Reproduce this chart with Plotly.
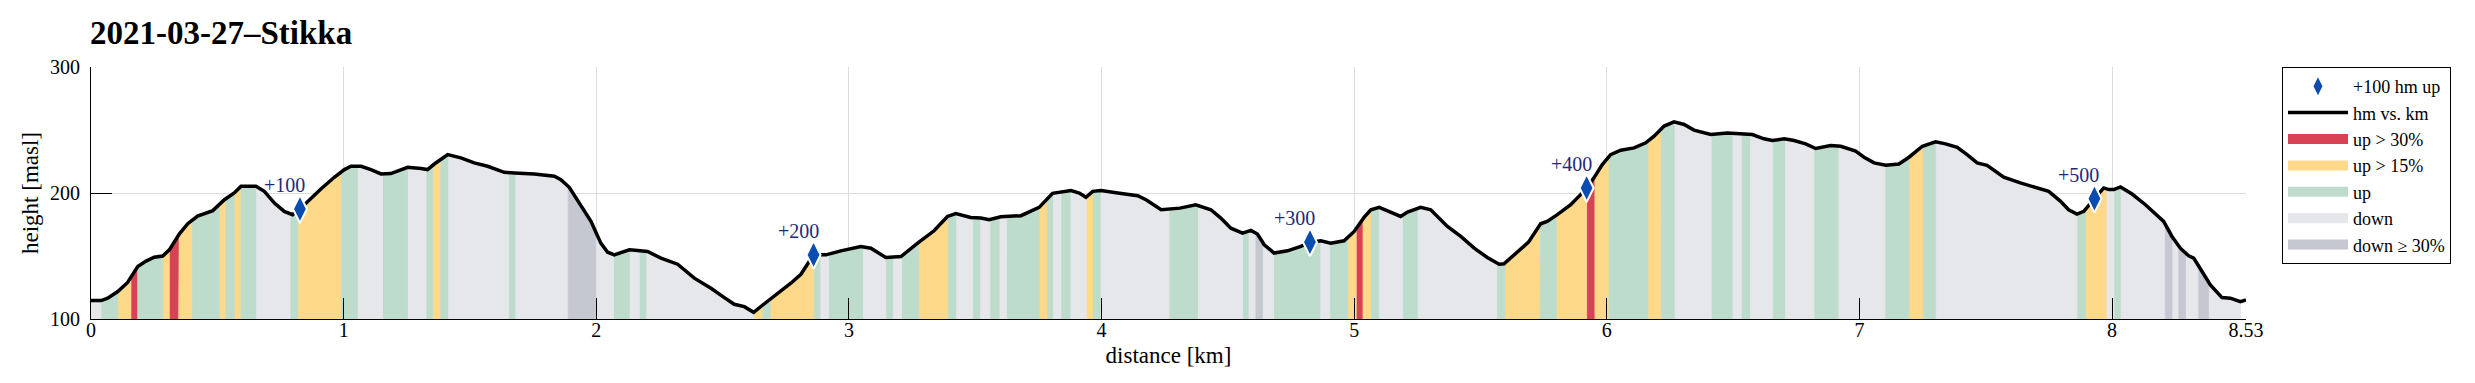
import numpy as np
import plotly.graph_objects as go

TITLE = "2021-03-27–Stikka"

# elevation profile (distance in km, height in m a.s.l.)
dist_km = [
    0.0, 0.04, 0.066, 0.106, 0.145, 0.185, 0.218, 0.25, 0.284, 0.31, 0.35, 0.383, 0.422, 0.482,
    0.528, 0.567, 0.594, 0.653, 0.686, 0.726, 0.765, 0.798, 0.827, 0.864, 0.91, 0.963, 1.003,
    1.029, 1.069, 1.108, 1.148, 1.187, 1.253, 1.306, 1.332, 1.359, 1.412, 1.464, 1.517, 1.57,
    1.636, 1.676, 1.755, 1.834, 1.86, 1.893, 1.939, 1.979, 2.018, 2.045, 2.071, 2.131, 2.164,
    2.203, 2.256, 2.322, 2.388, 2.454, 2.507, 2.546, 2.586, 2.623, 2.659, 2.718, 2.77, 2.81,
    2.837, 2.86, 2.909, 2.968, 3.047, 3.087, 3.146, 3.206, 3.272, 3.337, 3.39, 3.423, 3.482,
    3.522, 3.555, 3.601, 3.681, 3.753, 3.806, 3.839, 3.879, 3.912, 3.938, 3.965, 3.998, 4.064,
    4.143, 4.176, 4.236, 4.31, 4.373, 4.433, 4.472, 4.512, 4.558, 4.591, 4.617, 4.644, 4.683,
    4.736, 4.789, 4.825, 4.868, 4.907, 4.96, 5.0, 5.039, 5.066, 5.099, 5.132, 5.184, 5.211,
    5.263, 5.303, 5.369, 5.422, 5.475, 5.527, 5.574, 5.593, 5.646, 5.69, 5.738, 5.764, 5.804,
    5.857, 5.896, 5.92, 5.949, 5.982, 6.015, 6.055, 6.108, 6.154, 6.187, 6.227, 6.266, 6.306,
    6.345, 6.411, 6.477, 6.543, 6.576, 6.622, 6.655, 6.702, 6.741, 6.787, 6.827, 6.886, 6.926,
    6.985, 7.018, 7.058, 7.104, 7.156, 7.196, 7.249, 7.301, 7.341, 7.387, 7.426, 7.466, 7.505,
    7.571, 7.637, 7.69, 7.749, 7.795, 7.828, 7.861, 7.888, 7.93, 7.967, 7.987, 8.007, 8.033,
    8.079, 8.132, 8.178, 8.204, 8.237, 8.27, 8.303, 8.323, 8.356, 8.389, 8.435, 8.468, 8.508,
    8.53,
]
height_m = [
    114.6, 114.6, 116.5, 121.8, 129.0, 141.6, 146.0, 149.0, 150.0, 154.9, 167.6, 175.6, 181.7, 186.0,
    194.7, 200.0, 205.3, 205.3, 201.3, 192.0, 185.4, 182.8, 187.3, 194.7, 203.2, 212.5, 218.6,
    221.2, 221.2, 218.6, 215.1, 215.4, 220.4, 219.4, 218.6, 223.0, 230.5, 227.9, 223.9, 221.2,
    216.4, 215.9, 215.1, 213.3, 210.6, 204.5, 190.7, 177.5, 160.2, 153.0, 150.9, 154.9, 154.4,
    153.6, 148.3, 143.5, 132.4, 124.4, 117.0, 111.7, 109.8, 105.3, 111.1, 120.2, 128.4, 135.5,
    143.5, 150.9, 150.9, 154.1, 157.6, 156.2, 148.8, 149.6, 160.2, 170.0, 181.4, 183.6, 180.6,
    180.1, 178.8, 181.2, 182.0, 188.6, 199.7, 200.8, 201.9, 200.0, 196.6, 201.3, 201.9, 200.0,
    197.9, 194.7, 186.7, 188.0, 190.7, 186.7, 180.1, 172.1, 168.2, 170.3, 167.4, 158.9, 152.3,
    154.1, 157.6, 161.0, 162.1, 160.2, 162.1, 169.5, 180.6, 186.7, 188.6, 185.9, 181.4, 184.9,
    188.6, 186.7, 173.5, 165.5, 156.2, 148.8, 143.5, 143.8, 153.6, 161.0, 175.6, 177.5, 182.8,
    190.7, 198.7, 204.0, 212.0, 222.5, 230.5, 234.0, 235.8, 239.8, 245.1, 253.1, 256.5, 254.4,
    249.9, 246.4, 247.7, 246.9, 246.4, 243.0, 241.6, 243.0, 241.6, 239.0, 235.3, 237.7, 237.1,
    233.2, 228.4, 223.9, 222.0, 223.0, 228.4, 237.1, 240.6, 239.0, 236.3, 230.5, 223.9, 222.0,
    212.5, 208.0, 204.5, 201.3, 193.6, 186.7, 183.3, 185.4, 195.5, 204.0, 202.7, 202.7, 204.8,
    199.2, 190.7, 182.8, 177.5, 165.5, 156.2, 150.1, 148.3, 137.7, 127.1, 117.0, 116.5, 113.8,
    115.1,
]

# slope-class bands: start of each band (km), class of each band, end of the last band
band_start_km = [
    0.0, 0.0396, 0.1055, 0.158, 0.185, 0.284, 0.31, 0.347, 0.402, 0.508, 0.534, 0.567, 0.594,
    0.656, 0.788, 0.818, 0.992, 1.058, 1.154, 1.256, 1.326, 1.352, 1.385, 1.416, 1.653, 1.682,
    1.889, 1.998, 2.068, 2.134, 2.17, 2.2, 2.623, 2.659, 2.688, 2.862, 2.889, 2.919, 3.058,
    3.146, 3.176, 3.209, 3.276, 3.393, 3.427, 3.489, 3.522, 3.558, 3.598, 3.624, 3.753, 3.786,
    3.81, 3.839, 3.879, 3.939, 3.968, 3.998, 4.267, 4.384, 4.558, 4.584, 4.611, 4.637, 4.681,
    4.868, 4.903, 4.974, 5.008, 5.035, 5.068, 5.101, 5.191, 5.253, 5.564, 5.596, 5.736, 5.8,
    5.92, 5.953, 6.009, 6.163, 6.216, 6.27, 6.413, 6.5, 6.532, 6.569, 6.655, 6.708, 6.82,
    6.919, 7.101, 7.196, 7.253, 7.304, 7.861, 7.894, 7.98, 8.007, 8.036, 8.211, 8.237, 8.264,
    8.29, 8.343, 8.382,
]
band_last_end_km = 8.508
band_class = [
    "down", "up", "up15", "up30", "up", "up15", "up30", "up15", "up", "up15", "up", "up15", "up",
    "down", "up", "up15", "up", "down", "up", "down", "up", "up15", "up", "down", "up", "down",
    "down30", "down", "up", "down", "up", "down", "up15", "up", "up15", "up", "down", "up", "down",
    "up", "down", "up", "up15", "up", "down", "up", "down", "up", "down", "up", "up15", "up",
    "down", "up", "down", "up15", "up", "down", "up", "down", "up", "down", "down30", "down", "up",
    "down", "up", "up15", "up30", "up15", "up", "down", "up", "down", "up", "up15", "up", "up15",
    "up30", "up15", "up", "up15", "up", "down", "up", "down", "up", "down", "up", "down", "up",
    "down", "up", "up15", "up", "down", "up", "up15", "down", "up", "down", "down30", "down", "down30",
    "down", "down30", "down",
]

class_keys = ["up30", "up15", "up", "down", "down30"]
class_names = ["up > 30%", "up > 15%", "up", "down", "down ≥ 30%"]
class_colors = ["#D94155", "#FED98A", "#BEDCCB", "#E6E7EB", "#C5C8D1"]

milestone_km = [0.827, 2.86, 4.825, 5.92, 7.93]
milestone_text = ["+100", "+200", "+300", "+400", "+500"]

x_tickvals = [0, 1, 2, 3, 4, 5, 6, 7, 8, 8.53]
x_ticktext = ["0", "1", "2", "3", "4", "5", "6", "7", "8", "8.53"]
y_tickvals = [100, 200, 300]
y_ticktext = ["100", "200", "300"]

FONT = "Liberation Serif"
Y_MIN, Y_MAX = 100, 300

d = np.array(dist_km)
h = np.array(height_m)
band_end_km = band_start_km[1:] + [band_last_end_km]

fig = go.Figure()

# filled slope-class bands
for rank, (key, name, col) in enumerate(zip(class_keys, class_names, class_colors)):
    xs, ys = [], []
    for a, b, c in zip(band_start_km, band_end_km, band_class):
        if c != key:
            continue
        inner = d[(d > a) & (d < b)]
        px = np.concatenate([[a], inner, [b]])
        py = np.interp(px, d, h)
        xs += [a] + px.tolist() + [b, a, None]
        ys += [Y_MIN] + py.tolist() + [Y_MIN, Y_MIN, None]
    fig.add_trace(go.Scatter(
        x=xs, y=ys, mode="lines", fill="toself", fillcolor=col,
        line=dict(color=col, width=0.8), showlegend=False, hoverinfo="skip",
    ))
    # legend entry (patch)
    fig.add_trace(go.Scatter(
        x=[None], y=[None], mode="lines", line=dict(color=col, width=16),
        name=name, legendrank=3 + rank,
    ))

# profile line
fig.add_trace(go.Scatter(
    x=dist_km, y=height_m, mode="lines", line=dict(color="black", width=3.5),
    name="hm vs. km", legendrank=2,
))

# +100 hm milestones
ms_h = np.interp(milestone_km, d, h)
fig.add_trace(go.Scatter(
    x=milestone_km, y=ms_h, mode="markers",
    marker=dict(symbol="diamond-tall", size=20, color="#0A4CB0",
                line=dict(color="white", width=2)),
    name="+100 hm up", legendrank=1,
))
for xk, yk, t in zip(milestone_km, ms_h, milestone_text):
    fig.add_annotation(x=xk, y=yk, text=t, showarrow=False, xanchor="right",
                       yanchor="bottom", xshift=7, yshift=11,
                       font=dict(family=FONT, size=20, color="#1C2A78"))

axis_common = dict(
    showline=True, linecolor="black", linewidth=1, ticks="inside", ticklen=21,
    tickcolor="black", tickwidth=1, showgrid=True, gridcolor="#DCDCDC", gridwidth=1,
    zeroline=False, tickfont=dict(family=FONT, size=20, color="black"),
)
fig.update_xaxes(range=[0, 8.53], tickvals=x_tickvals, ticktext=x_ticktext,
                 ticklabelstandoff=-7,
                 title=dict(text="distance [km]", font=dict(family=FONT, size=23, color="black"),
                            standoff=6),
                 **axis_common)
fig.update_yaxes(range=[Y_MIN, Y_MAX], tickvals=y_tickvals, ticktext=y_ticktext,
                 ticklabelstandoff=6,
                 title=dict(text="height [masl]", font=dict(family=FONT, size=23, color="black"),
                            standoff=4),
                 **axis_common)

fig.update_layout(
    width=2475, height=383,
    margin=dict(l=83, r=237, t=59, b=72, autoexpand=False),
    paper_bgcolor="white", plot_bgcolor="white",
    title=dict(text="<b>" + TITLE + "</b>", x=82 / 2475, xanchor="left", xref="container",
               y=1 - 24 / 383, yanchor="middle",
               font=dict(family=FONT, size=33, color="black")),
    legend=dict(x=1.0167, y=1.0, xanchor="left", yanchor="top", bgcolor="white",
                bordercolor="black", borderwidth=1, itemwidth=60,
                font=dict(family=FONT, size=18, color="black")),
    showlegend=True,
)

fig.write_html("out.html")
